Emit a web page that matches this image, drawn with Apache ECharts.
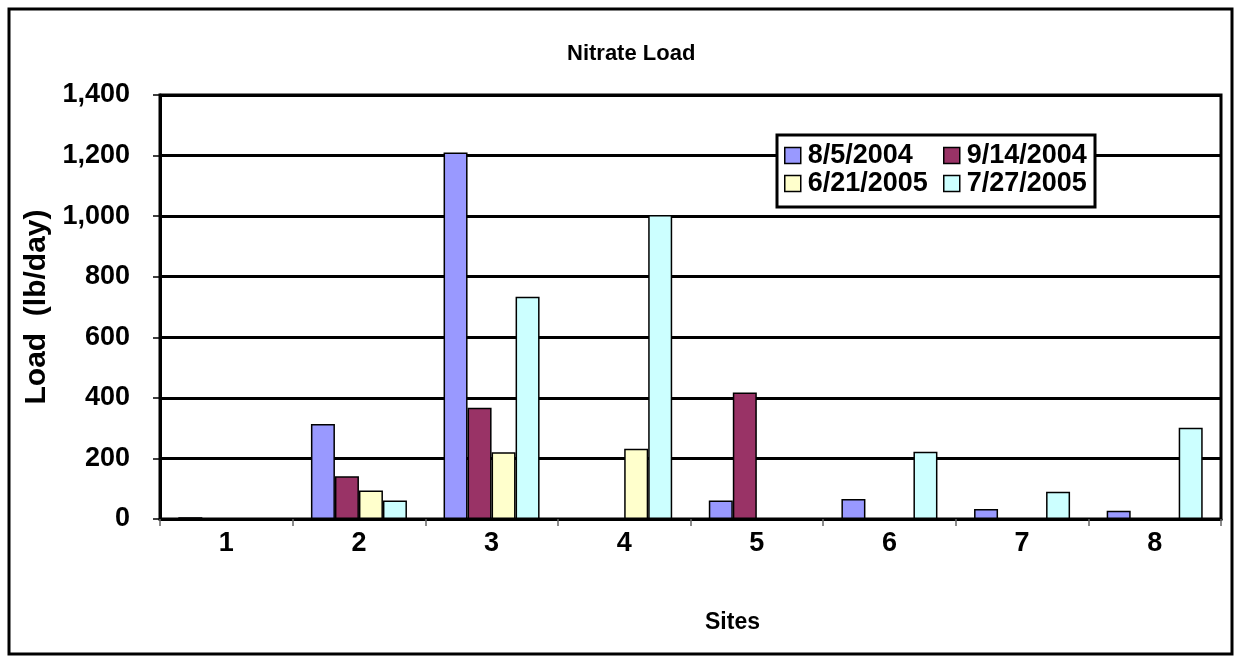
<!DOCTYPE html>
<html>
<head>
<meta charset="utf-8">
<script src="https://cdn.jsdelivr.net/npm/echarts@6/dist/echarts.min.js"></script>
<style>
html,body{margin:0;padding:0;background:#fff;}
#chart{width:1235px;height:658px;}
</style>
</head>
<body>
<div id="chart"></div>
<script>
var sites = ['1','2','3','4','5','6','7','8'];
var seriesNames = ['8/5/2004','9/14/2004','6/21/2005','7/27/2005'];
var seriesColors = ['#9999FF','#993366','#FFFFCC','#CCFFFF'];
var load_2004_08_05 = [6, 314, 1210, null, 61, 66, 33, 27];
var load_2004_09_14 = [null, 141, 367, null, 418, null, null, null];
var load_2005_06_21 = [null, 94, 220, 232, null, null, null, null];
var load_2005_07_27 = [null, 61, 734, 1004, null, 222, 90, 301];
var seriesValues = [load_2004_08_05, load_2004_09_14, load_2005_06_21, load_2005_07_27];
var yTicks = {min: 0, max: 1400, interval: 200};

var FONT = "Arial, 'Liberation Sans', sans-serif";
var chart = echarts.init(document.getElementById('chart'), null, {renderer: 'canvas'});

var series = seriesNames.map(function (n, i) {
  return {
    name: n,
    type: 'bar',
    data: seriesValues[i],
    barGap: '0%',
    barCategoryGap: '27.6%',
    itemStyle: {color: seriesColors[i], borderColor: '#000', borderWidth: 1.5},
    emphasis: {disabled: true}
  };
});

var legendCommon = {
  orient: 'vertical',
  padding: 0,
  z: 20,
  itemWidth: 16,
  itemHeight: 16,
  itemGap: 1,
  icon: 'rect',
  selectedMode: false,
  itemStyle: {borderColor: '#000', borderWidth: 1.5},
  textStyle: {fontFamily: FONT, fontWeight: 'bold', fontSize: 27, lineHeight: 27, color: '#000', padding: [0, 0, 0, 2]}
};

chart.setOption({
  animation: false,
  backgroundColor: '#fff',
  title: [{
    text: 'Nitrate Load',
    left: 562,
    top: 38,
    textStyle: {fontFamily: FONT, fontWeight: 'bold', fontSize: 22, color: '#000'}
  }, {
    text: 'Sites',
    left: 700,
    top: 606,
    textStyle: {fontFamily: FONT, fontWeight: 'bold', fontSize: 23, color: '#000'}
  }],
  legend: [
    Object.assign({}, legendCommon, {left: 784, top: 142, data: [seriesNames[0], seriesNames[2]]}),
    Object.assign({}, legendCommon, {left: 943, top: 142, data: [seriesNames[1], seriesNames[3]]})
  ],
  grid: {
    left: 160, right: 14, top: 95, bottom: 139,
    show: true, borderColor: '#000', borderWidth: 3, backgroundColor: '#fff'
  },
  xAxis: {
    type: 'category',
    data: sites,
    axisLine: {lineStyle: {color: '#000', width: 3}},
    axisTick: {show: true, interval: 0, length: 7, lineStyle: {color: '#666', width: 1.5}},
    axisLabel: {margin: 11, fontFamily: FONT, fontWeight: 'bold', fontSize: 27, color: '#000'}
  },
  yAxis: {
    type: 'value',
    min: yTicks.min, max: yTicks.max, interval: yTicks.interval,
    name: 'Load  (lb/day)',
    nameLocation: 'middle',
    nameGap: 108,
    nameRotate: 90,
    nameTextStyle: {fontFamily: FONT, fontWeight: 'bold', fontSize: 30, color: '#000'},
    axisLine: {show: true, lineStyle: {color: '#000', width: 3}},
    axisTick: {show: true, length: 7, lineStyle: {color: '#000', width: 1.5}},
    splitLine: {show: true, lineStyle: {color: '#000', width: 3}},
    axisLabel: {
      margin: 30, fontFamily: FONT, fontWeight: 'bold', fontSize: 27, color: '#000',
      formatter: function (v) { return v.toLocaleString('en-US'); }
    }
  },
  graphic: [
    {type: 'rect', shape: {x: 9, y: 9, width: 1223, height: 645}, style: {fill: null, stroke: '#000', lineWidth: 3}, z: 100, silent: true},
    {type: 'rect', shape: {x: 777, y: 135, width: 318, height: 72}, style: {fill: '#fff', stroke: '#000', lineWidth: 3}, z: 10, silent: true}
  ],
  series: series
});
</script>
</body>
</html>
